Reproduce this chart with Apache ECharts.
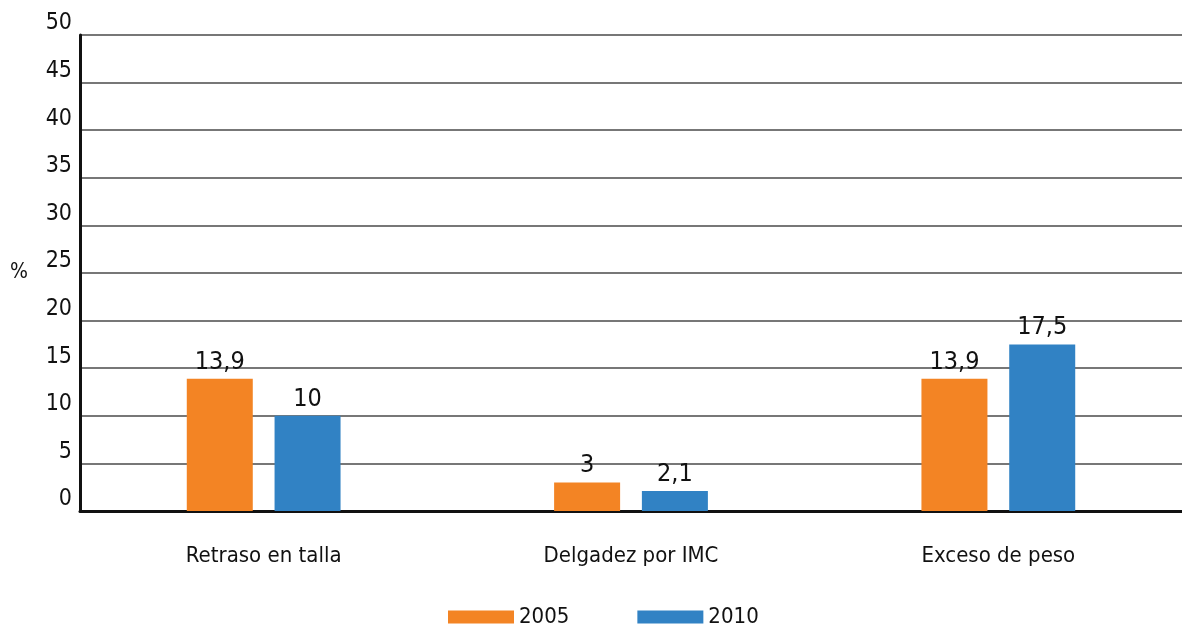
<!DOCTYPE html>
<html>
<head>
<meta charset="utf-8">
<script src="https://cdn.jsdelivr.net/npm/echarts@6/dist/echarts.min.js"></script>
<style>
    html, body { margin: 0; padding: 0; background: #fff; }
    #chart { width: 1182px; height: 628px; }
</style>
</head>
<body>
<div id="chart"></div>
<script>
// datos
var categorias = ['Retraso en talla', 'Delgadez por IMC', 'Exceso de peso'];
var anios = ['2005', '2010'];
var valores2005 = [13.9, 3, 13.9];
var valores2010 = [10, 2.1, 17.5];
var colores = ['#F38424', '#3182C4'];

var fuente = "'Liberation Sans Narrow', 'DejaVu Sans Condensed', 'Roboto', sans-serif";

// etiqueta con coma decimal
function coma(p) {
    return String(p.value).replace('.', ',');
}

function serie(nombre, datos, color) {
    return {
        name : nombre,
        type : 'bar',
        data : datos,
        barWidth : 66,
        barGap : '33%',
        itemStyle : { color : color },
        label : {
            show : true,
            position : 'top',
            distance : 4,
            color : '#111',
            fontSize : 25,
            fontFamily : fuente,
            formatter : coma
        }
    };
}

var option = {
    animation : false,
    textStyle : { fontFamily : fuente },
    grid : {
        left : 80,
        right : 0,
        top : 35,
        bottom : 117
    },
    legend : {
        bottom : -5,
        left : 443,
        itemWidth : 66,
        itemHeight : 13,
        itemGap : 68,
        icon : 'rect',
        textStyle : { fontSize : 22, color : '#111', fontFamily : fuente },
        data : anios
    },
    xAxis : {
        type : 'category',
        data : categorias,
        axisLine : { lineStyle : { color : '#111', width : 3 } },
        axisTick : { show : false },
        axisLabel : {
            margin : 34,
            fontSize : 22,
            color : '#111',
            fontFamily : fuente
        }
    },
    yAxis : {
        type : 'value',
        min : 0,
        max : 50,
        interval : 5,
        name : '%',
        nameLocation : 'middle',
        nameRotate : 0,
        nameGap : 52,
        nameTextStyle : { fontSize : 21, color : '#111', fontFamily : fuente, padding : [14, 0, 0, 0] },
        axisLine : { show : true, lineStyle : { color : '#111', width : 3 } },
        axisTick : { show : false },
        axisLabel : {
            margin : 8,
            fontSize : 23,
            color : '#111',
            verticalAlign : 'bottom',
            fontFamily : fuente
        },
        splitLine : { lineStyle : { color : '#4a4a4a', width : 1.5 } }
    },
    series : [
        serie(anios[0], valores2005, colores[0]),
        serie(anios[1], valores2010, colores[1])
    ]
};

var chart = echarts.init(document.getElementById('chart'));
chart.setOption(option);
</script>
</body>
</html>
